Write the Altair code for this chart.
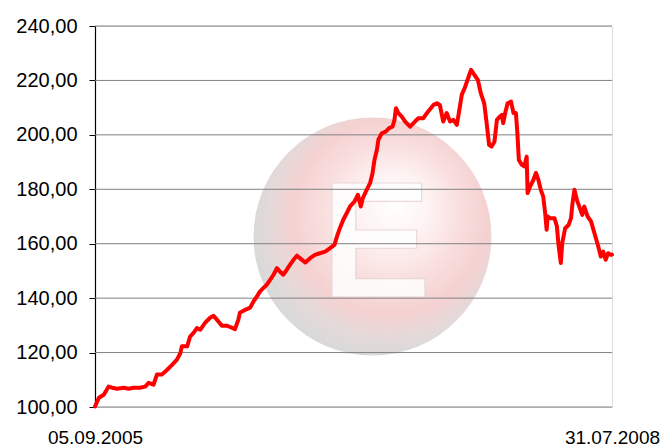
import altair as alt
import pandas as pd

# Index series: day offset from 05.09.2005, index level
days = [0, 8, 18, 28, 35, 45, 59, 69, 79, 92, 103, 110, 120, 127, 137, 148, 158, 168, 175, 178,
        189, 195, 202, 209, 216, 226, 236, 243, 250, 260, 270, 277, 287, 294, 297, 308, 318, 325,
        332, 338, 345, 352, 359, 366, 373, 379, 386, 393, 400, 407, 414, 420, 431, 441, 451, 461,
        472, 482, 491, 496, 502, 509, 516, 523, 532, 539, 545, 549, 557, 564, 569, 573, 578, 581,
        588, 596, 603, 610, 614, 617, 622, 629, 636, 646, 656, 663, 673, 683, 694, 701, 707, 714,
        721, 728, 735, 742, 747, 752, 759, 765, 771, 778, 785, 791, 798, 803, 808, 813, 819, 824,
        830, 834, 837, 841, 846, 853, 858, 863, 866, 869, 875, 880, 885, 887, 892, 899, 904, 909,
        914, 919, 923, 926, 928, 933, 942, 947, 950, 955, 958, 964, 971, 976, 979, 983, 988, 994,
        999, 1003, 1010, 1017, 1022, 1027, 1032, 1037, 1042, 1047, 1052, 1058, 1060]
values = [100.2, 103.4, 104.5, 107.5, 107.1, 106.7, 107.1, 106.7, 107.1, 107.1, 107.5, 108.9, 108.2,
          111.9, 111.9, 113.7, 115.5, 117.4, 119.8, 122.3, 122.3, 125.9, 127.2, 129.0, 128.4, 131.0,
          132.8, 133.5, 132.1, 129.9, 129.9, 129.4, 128.6, 132.1, 134.6, 135.7, 136.5, 138.8, 140.6,
          142.4, 143.7, 144.9, 146.7, 148.6, 151.0, 149.8, 148.6, 150.4, 152.3, 154.1, 155.6, 154.7,
          153.1, 154.7, 155.9, 156.5, 157.1, 158.4, 159.6, 162.6, 165.7, 168.8, 171.2, 173.7, 175.5,
          178.0, 173.7, 176.7, 179.8, 182.3, 185.9, 190.8, 194.5, 198.2, 200.6, 201.2, 202.5, 203.0,
          205.5, 209.8, 208.0, 206.7, 204.9, 203.0, 204.9, 206.1, 206.1, 208.6, 211.0, 211.6, 211.0,
          204.9, 208.0, 204.9, 205.5, 203.7, 209.2, 214.7, 217.7, 220.8, 223.9, 222.0, 220.2, 215.3,
          211.6, 204.3, 196.3, 195.7, 197.5, 205.5, 206.7, 207.3, 204.3, 208.0, 211.6, 212.2, 208.0,
          208.0, 200.6, 190.8, 189.0, 188.4, 192.0, 178.6, 181.0, 183.5, 186.0, 183.5, 179.8, 177.3,
          171.2, 165.1, 170.0, 169.4, 169.4, 166.4, 160.2, 152.9, 160.2, 165.7, 166.9, 169.4, 174.9,
          179.8, 176.1, 173.1, 170.6, 173.7, 170.0, 168.2, 165.1, 162.0, 158.9, 155.3, 157.1, 154.1,
          156.5, 155.9, 156.0]

y_ticks = [100, 120, 140, 160, 180, 200, 220, 240]

dates = (pd.Timestamp("2005-09-05") + pd.to_timedelta(days, unit="D")).strftime("%Y-%m-%d")
df = pd.DataFrame({"date": list(dates), "value": values})
grid_df = pd.DataFrame({"v": y_ticks})
one = pd.DataFrame({"a": [0]})

FONT = "Liberation Sans"
d0 = alt.DateTime(year=2005, month=9, date=5, utc=True)
d1 = alt.DateTime(year=2008, month=7, date=31, utc=True)

x_enc = alt.X("date:T",
              scale=alt.Scale(type="utc", domain=[d0, d1]),
              axis=alt.Axis(values=[d0, d1], format="%d.%m.%Y", title=None, grid=False,
                            ticks=False, domain=False, labelFontSize=19, labelFont=FONT,
                            labelColor="#000000", labelPadding=21, labelFlush=False,
                            labelOverlap=False, labelAlign="center", labelBaseline="top"))
y_enc = alt.Y("value:Q",
              scale=alt.Scale(domain=[100, 240], nice=False, zero=False),
              axis=alt.Axis(values=y_ticks, title=None, grid=False, tickSize=6,
                            tickColor="#000000", domainColor="#000000", domainWidth=1.2,
                            labelFontSize=20, labelFont=FONT, labelColor="#000000",
                            labelPadding=12,
                            labelExpr="replace(format(datum.value, '.2f'), '.', ',')"))

grad = alt.RadialGradient(
    gradient="radial",
    x1=0.6, y1=0.36, r1=0.0, x2=0.56, y2=0.44, r2=0.57,
    stops=[alt.GradientStop(color="#ffffff", offset=0.0),
           alt.GradientStop(color="#fef2f2", offset=0.25),
           alt.GradientStop(color="#f9dcdc", offset=0.5),
           alt.GradientStop(color="#f4cdcd", offset=0.72),
           alt.GradientStop(color="#e2d6d6", offset=0.88),
           alt.GradientStop(color="#d6d6d6", offset=1.0)])

badge = alt.Chart(one).mark_point(shape="circle", filled=True, size=56600, fill=grad,
                                  opacity=0.92, strokeWidth=0).encode(
    x=alt.value(277.5), y=alt.value(210.5))

letter = alt.Chart(one).mark_text(text="E", font=FONT, fontWeight="bold", fontSize=166,
                                  align="center", baseline="alphabetic", fill="#ffffff",
                                  opacity=0.85, stroke="#ead6d6", strokeWidth=1.2).encode(
    x=alt.value(281), y=alt.value(271))

grid = alt.Chart(grid_df).mark_rule(color="#808080", strokeWidth=1).encode(
    y=alt.Y("v:Q", scale=alt.Scale(domain=[100, 240], nice=False, zero=False)))

line = alt.Chart(df).mark_line(color="#ff0000", strokeWidth=4, strokeJoin="round",
                               strokeCap="round", clip=False).encode(x=x_enc, y=y_enc)

chart = alt.layer(badge, letter, grid, line).properties(
    width=517, height=381,
    autosize=alt.AutoSizeParams(type="none"),
    padding={"left": 87, "top": 18, "right": 49, "bottom": 41},
).configure_view(stroke="#808080", strokeWidth=1.5).configure(background="#ffffff")

chart.save("out.html", embed_options={"renderer": "svg", "actions": False})
